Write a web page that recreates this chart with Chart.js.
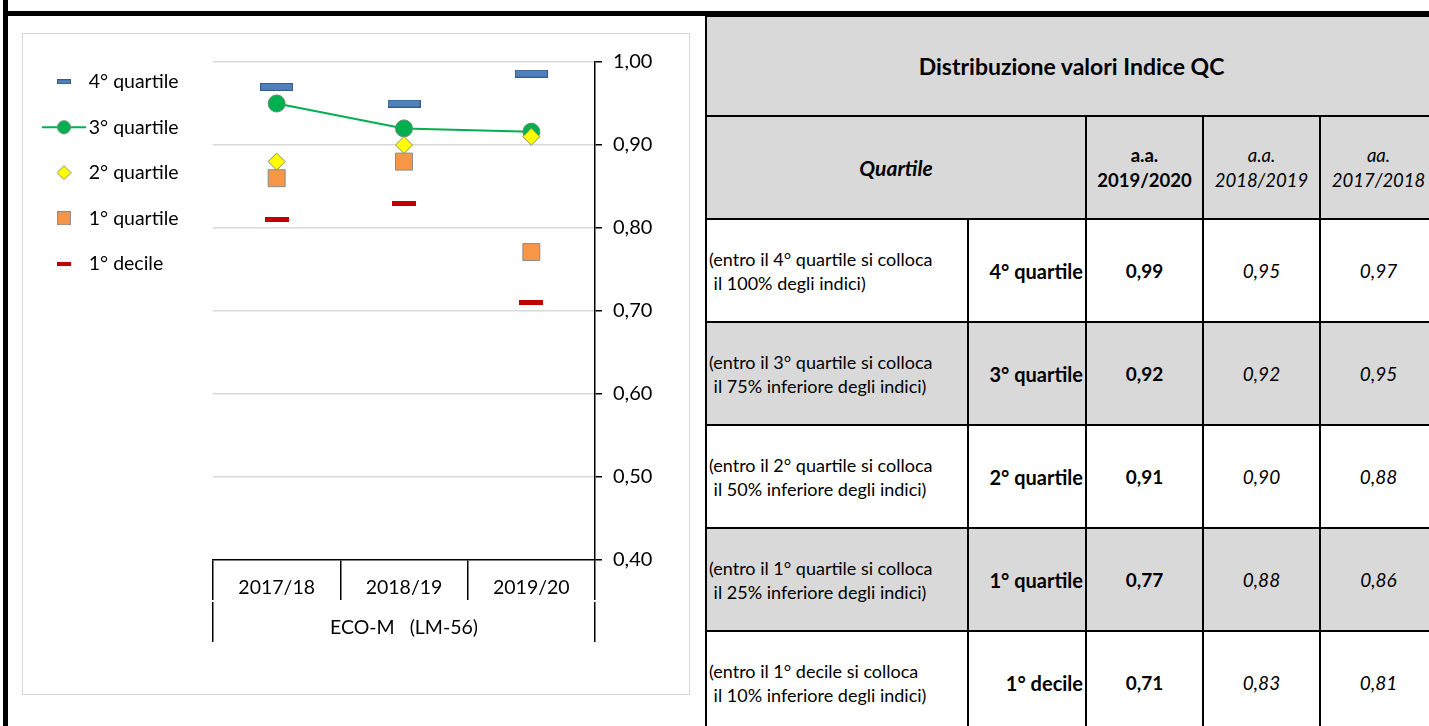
<!DOCTYPE html>
<html lang="it">
<head>
<meta charset="utf-8">
<title>Distribuzione valori Indice QC</title>
<script src="https://cdn.jsdelivr.net/npm/chart.js@4.4.1/dist/chart.umd.min.js"></script>
<style>
html, body { margin: 0; padding: 0; background: #fff; }
body { width: 1429px; height: 726px; overflow: hidden; position: relative; font-family: Lato, "Open Sans", sans-serif; color: #000; }
#barLeft { position: absolute; left: 3px; top: 0; width: 5px; height: 726px; background: #000; }
#barTop { position: absolute; left: 3px; top: 11px; width: 1426px; height: 5px; background: #000; }
#panel { position: absolute; left: 22px; top: 33px; width: 668px; height: 662px; box-sizing: border-box; border: 1px solid #d9d9d9; }
#chart { position: absolute; left: 23px; top: 40px; }
#tbl { position: absolute; left: 705px; top: 15px; border-collapse: collapse; table-layout: fixed; width: 733px; }
#tbl td { border: 2px solid #000; padding: 0; text-align: center; vertical-align: middle; font-size: 19px; }
#tbl .grey td { background: #d9d9d9; }
#tbl .title { font-size: 23px; font-weight: bold; height: 98px; }
#tbl .head td { height: 101px; line-height: 25px; font-size: 18.5px; }
#tbl .head td.qh { font-size: 21px; }
#tbl .row td { height: 101px; }
#tbl td.desc { text-align: left; font-size: 18px; line-height: 24px; padding-left: 2px; white-space: nowrap; }
#tbl td.lab { text-align: right; font-weight: bold; font-size: 20px; padding-right: 2px; white-space: nowrap; }
.b { font-weight: bold; }
.i { font-style: italic; }
</style>
</head>
<body>
<div id="barLeft"></div>
<div id="barTop"></div>
<div id="panel"></div>
<canvas id="chart" width="666" height="640"></canvas>
<table id="tbl">
  <colgroup><col style="width:262px"><col style="width:118px"><col style="width:117px"><col style="width:117px"><col style="width:117px"></colgroup>
  <tbody id="tbody"></tbody>
</table>
<script>
// dati
const categories = ['2017/18', '2018/19', '2019/20'];
const groupLabel = 'ECO-M   (LM-56)';
const seriesNames = ['4° quartile', '3° quartile', '2° quartile', '1° quartile', '1° decile'];
const quartile4 = [0.970, 0.950, 0.986];
const quartile3 = [0.950, 0.920, 0.916];
const quartile2 = [0.880, 0.900, 0.910];
const quartile1 = [0.860, 0.880, 0.771];
const decile1 = [0.810, 0.830, 0.710];
const yMin = 0.4;
const yMax = 1.0;
const yStep = 0.1;

// tabella
const tableTitle = 'Distribuzione valori Indice QC';
const headQuartile = 'Quartile';
const headYears = [['a.a.', '2019/2020'], ['a.a.', '2018/2019'], ['aa.', '2017/2018']];
const descriptions = [
    ['(entro il 4° quartile si colloca', 'il 100% degli indici)'],
    ['(entro il 3° quartile si colloca', 'il 75% inferiore degli indici)'],
    ['(entro il 2° quartile si colloca', 'il 50% inferiore degli indici)'],
    ['(entro il 1° quartile si colloca', 'il 25% inferiore degli indici)'],
    ['(entro il 1° decile si colloca', 'il 10% inferiore degli indici)']
];

const allSeries = [quartile4, quartile3, quartile2, quartile1, decile1];
const fmt = v => v.toFixed(2).replace('.', ',');

// --- table ---
const tbody = document.getElementById('tbody');
let html = '<tr class="grey"><td colspan="5" class="title">' + tableTitle + '</td></tr>';
html += '<tr class="grey head"><td colspan="2" class="b i qh">' + headQuartile + '</td>';
headYears.forEach((h, k) => {
    html += '<td class="' + (k === 0 ? 'b' : 'i') + '">' + h[0] + '<br>' + h[1] + '</td>';
});
html += '</tr>';
allSeries.forEach((s, r) => {
    html += '<tr class="row' + (r % 2 === 1 ? ' grey' : '') + '">';
    html += '<td class="desc">' + descriptions[r][0] + '<br>&nbsp;' + descriptions[r][1] + '</td>';
    html += '<td class="lab">' + seriesNames[r] + '</td>';
    html += '<td class="b">' + fmt(s[2]) + '</td>';
    html += '<td class="i">' + fmt(s[1]) + '</td>';
    html += '<td class="i">' + fmt(s[0]) + '</td>';
    html += '</tr>';
});
tbody.innerHTML = html;

// --- marker images ---
function makeIcon(w, h, draw) {
    const c = document.createElement('canvas');
    c.width = w;
    c.height = h;
    draw(c.getContext('2d'), w, h);
    return c;
}
function barIcon(w, h, fill, stroke) {
    return makeIcon(w, h, (g) => {
        g.fillStyle = fill;
        g.fillRect(0, 0, w, h);
        if (stroke) {
            g.strokeStyle = stroke;
            g.lineWidth = 1;
            g.strokeRect(0.5, 0.5, w - 1, h - 1);
        }
    });
}
const blueMark = barIcon(33, 8, '#4f81bd', '#385d8a');
const redMark = barIcon(24, 5, '#c00000');

const legendIcons = [
    barIcon(14, 5, '#4f81bd', '#385d8a'),
    makeIcon(44, 16, (g, w, h) => {
        g.strokeStyle = '#00b050';
        g.lineWidth = 2;
        g.beginPath(); g.moveTo(0, h / 2); g.lineTo(w, h / 2); g.stroke();
        g.fillStyle = '#00b050';
        g.strokeStyle = '#5f8f6a';
        g.lineWidth = 1;
        g.beginPath(); g.arc(w / 2, h / 2, 6.5, 0, Math.PI * 2); g.fill(); g.stroke();
    }),
    makeIcon(15, 15, (g) => {
        g.fillStyle = '#ffff00';
        g.strokeStyle = '#8c8c6a';
        g.lineWidth = 1;
        g.beginPath(); g.moveTo(7.5, 0.5); g.lineTo(14.5, 7.5); g.lineTo(7.5, 14.5); g.lineTo(0.5, 7.5); g.closePath();
        g.fill(); g.stroke();
    }),
    barIcon(14, 14, '#f79646', '#8c8c8c'),
    barIcon(14, 4, '#c00000')
];

// --- chart ---
const plotLeft = 190;
const axisFont = {family: 'Lato', size: 19.5};

const ctx = document.getElementById('chart').getContext('2d');
const chart = new Chart(ctx, {
    type: 'line',
    data: {
        labels: categories,
        datasets: [
            {
                label: seriesNames[0],
                data: quartile4,
                showLine: false,
                pointStyle: blueMark,
                pointRadius: 8,
                order: 5,
                xAxisID: 'x',
                yAxisID: 'y'
            },
            {
                label: seriesNames[1],
                data: quartile3,
                borderColor: '#00b050',
                borderWidth: 2,
                pointStyle: 'circle',
                pointRadius: 8.5,
                pointBackgroundColor: '#00b050',
                pointBorderColor: '#5f8f6a',
                pointBorderWidth: 1,
                order: 4,
                xAxisID: 'x',
                yAxisID: 'y'
            },
            {
                label: seriesNames[2],
                data: quartile2,
                showLine: false,
                pointStyle: 'rectRot',
                pointRadius: 8.5,
                pointBackgroundColor: '#ffff00',
                pointBorderColor: '#8c8c6a',
                pointBorderWidth: 1,
                order: 3,
                xAxisID: 'x',
                yAxisID: 'y'
            },
            {
                label: seriesNames[3],
                data: quartile1,
                showLine: false,
                pointStyle: 'rect',
                pointRadius: 12,
                pointBackgroundColor: '#f79646',
                pointBorderColor: '#8c8c8c',
                pointBorderWidth: 1,
                order: 2,
                xAxisID: 'x',
                yAxisID: 'y'
            },
            {
                label: seriesNames[4],
                data: decile1,
                showLine: false,
                pointStyle: redMark,
                pointRadius: 8,
                order: 1,
                xAxisID: 'x',
                yAxisID: 'y'
            }
        ]
    },
    options: {
        responsive: false,
        animation: false,
        events: [],
        layout: {
            padding: {top: 6, right: 0, bottom: 38, left: 0}
        },
        plugins: {
            legend: {
                position: 'left',
                align: 'start',
                maxWidth: 200,
                labels: {
                    usePointStyle: true,
                    pointStyleWidth: 30,
                    padding: 26,
                    color: '#000',
                    font: axisFont,
                    sort: (a, b) => a.datasetIndex - b.datasetIndex,
                    generateLabels: (c) => {
                        const items = Chart.defaults.plugins.legend.labels.generateLabels(c);
                        items.forEach((it) => { it.pointStyle = legendIcons[it.datasetIndex]; });
                        return items;
                    }
                }
            },
            tooltip: {enabled: false}
        },
        scales: {
            x: {
                type: 'category',
                position: 'bottom',
                offset: true,
                grid: {
                    offset: true,
                    drawOnChartArea: false,
                    tickLength: 40,
                    color: '#000',
                    lineWidth: 1.5
                },
                border: {display: true, color: '#000', width: 1.5},
                ticks: {
                    color: '#000',
                    font: axisFont,
                    padding: -23.7,
                    maxRotation: 0,
                    autoSkip: false
                },
                afterFit: (s) => { s.height = 42; }
            },
            x2: {
                type: 'category',
                axis: 'x',
                position: 'bottom',
                labels: [groupLabel],
                offset: true,
                grid: {
                    offset: true,
                    drawOnChartArea: false,
                    tickLength: 40,
                    color: '#000',
                    lineWidth: 1.5
                },
                border: {display: false},
                ticks: {
                    color: '#000',
                    font: axisFont,
                    padding: -25.7,
                    maxRotation: 0,
                    autoSkip: false
                },
                afterFit: (s) => { s.height = 40; }
            },
            y: {
                type: 'linear',
                position: 'right',
                min: yMin,
                max: yMax,
                ticks: {
                    stepSize: yStep,
                    color: '#000',
                    font: {family: 'Lato', size: 20},
                    padding: 11,
                    callback: (v) => fmt(v)
                },
                grid: {
                    color: (c) => (c.tick && Math.abs(c.tick.value - yMin) < 1e-6) ? 'rgba(0,0,0,0)' : '#d9d9d9',
                    lineWidth: 1.5,
                    tickColor: '#000',
                    tickWidth: 1.5,
                    tickLength: 7
                },
                border: {display: true, color: '#000', width: 1.5},
                afterFit: (s) => { s.width = 94; s.paddingTop = 22; s.paddingBottom = 0; }
            },
            pad: {
                type: 'linear',
                axis: 'y',
                position: 'left',
                display: true,
                grid: {display: false},
                border: {display: false},
                ticks: {display: false},
                afterFit: (s) => {
                    const lw = s.chart.legend ? s.chart.legend.width : 0;
                    s.width = Math.max(0, plotLeft - lw);
                }
            }
        }
    }
});
</script>
</body>
</html>
